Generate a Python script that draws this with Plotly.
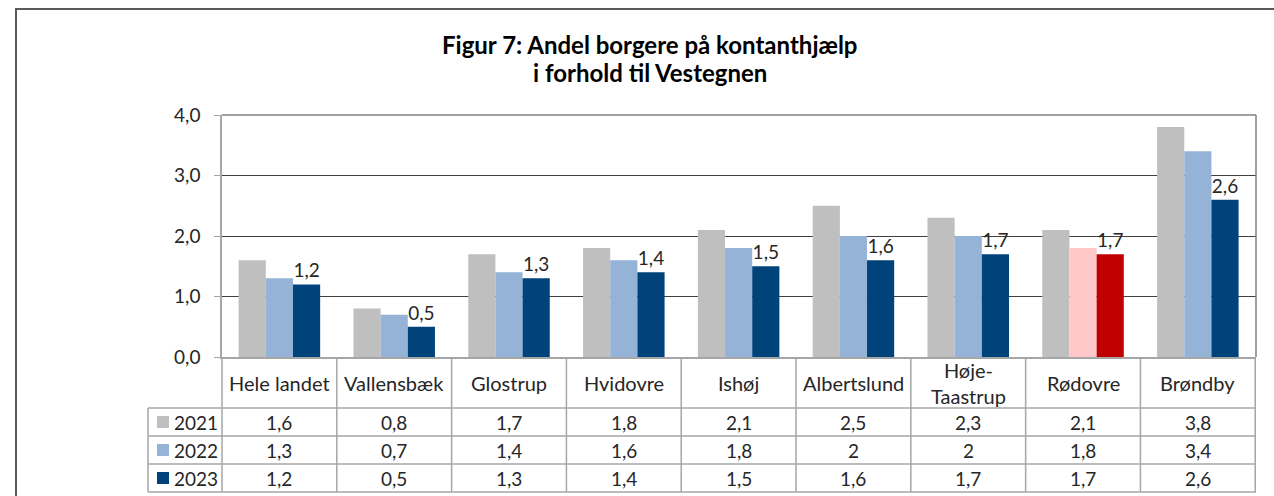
import plotly.graph_objects as go

categories = ["Hele landet", "Vallensbæk", "Glostrup", "Hvidovre", "Ishøj",
              "Albertslund", "Høje-Taastrup", "Rødovre", "Brøndby"]
header_labels = ["Hele landet", "Vallensbæk", "Glostrup", "Hvidovre", "Ishøj",
                 "Albertslund", "Høje-<br>Taastrup", "Rødovre", "Brøndby"]
years = ["2021", "2022", "2023"]
v2021 = [1.6, 0.8, 1.7, 1.8, 2.1, 2.5, 2.3, 2.1, 3.8]
v2022 = [1.3, 0.7, 1.4, 1.6, 1.8, 2.0, 2.0, 1.8, 3.4]
v2023 = [1.2, 0.5, 1.3, 1.4, 1.5, 1.6, 1.7, 1.7, 2.6]
y_ticks = [0, 1, 2, 3, 4]
title_lines = ["Figur 7: Andel borgere på kontanthjælp", "i forhold til Vestegnen"]
highlight = "Rødovre"

C21, C22, C23 = "#BFBFBF", "#95B3D7", "#00427A"
H22, H23 = "#FFC7C7", "#C00000"
FONT = "Lato"
TXT = "#262626"
GRIDC = "#A6A6A6"

W, H = 1274, 496
L, R, T, B = 222, 1256, 115, 357


def px(xp):
    return (xp - L) / (R - L)


def py(yp):
    return (B - yp) / (B - T)


def fmt(v):
    return f"{v:g}".replace(".", ",")


series = [v2021, v2022, v2023]
colors = [
    [C21] * len(categories),
    [H22 if c == highlight else C22 for c in categories],
    [H23 if c == highlight else C23 for c in categories],
]

fig = go.Figure()
for i, (yr, vals) in enumerate(zip(years, series)):
    fig.add_bar(
        x=categories, y=vals, name=yr,
        marker=dict(color=colors[i], line=dict(width=0)),
        text=[fmt(v) for v in vals] if i == 2 else None,
        textposition="outside" if i == 2 else "none",
        textfont=dict(family=FONT, size=19, color=TXT),
        cliponaxis=False,
    )

shapes = []
annotations = []

# outer border
shapes.append(dict(type="rect", xref="paper", yref="paper",
                   x0=px(16), x1=px(1290), y0=py(9), y1=py(520),
                   line=dict(color="#595959", width=2), layer="below"))
# plot frame (top and right)
shapes.append(dict(type="line", xref="paper", yref="paper",
                   x0=0, x1=1, y0=1, y1=1,
                   line=dict(color="#808080", width=1.5)))
shapes.append(dict(type="line", xref="paper", yref="paper",
                   x0=1, x1=1, y0=0, y1=1,
                   line=dict(color="#808080", width=1.5)))

# table rows
row_edges = [357, 408, 436, 464, 492]
for ye in row_edges[1:]:
    shapes.append(dict(type="line", xref="paper", yref="paper",
                       x0=px(148), x1=1, y0=py(ye), y1=py(ye),
                       line=dict(color=GRIDC, width=1.5)))
shapes.append(dict(type="line", xref="paper", yref="paper",
                   x0=px(148), x1=px(148), y0=py(408), y1=py(492),
                   line=dict(color=GRIDC, width=1.5)))
shapes.append(dict(type="line", xref="paper", yref="paper",
                   x0=0, x1=0, y0=py(357), y1=py(492),
                   line=dict(color=GRIDC, width=1.5)))
for k in range(1, len(categories) + 1):
    shapes.append(dict(type="line", xref="x", yref="paper",
                       x0=k - 0.5, x1=k - 0.5, y0=py(357), y1=py(492),
                       line=dict(color=GRIDC, width=1.5)))

# header labels
for c, lab in zip(categories, header_labels):
    annotations.append(dict(x=c, xref="x", yref="paper", y=py(382.5),
                            text=lab, showarrow=False,
                            xanchor="center", yanchor="middle",
                            font=dict(family=FONT, size=20, color=TXT)))

row_centers = [422, 450, 478]
legend_colors = [C21, C22, C23]
for yr, vals, rc, lc in zip(years, series, row_centers, legend_colors):
    shapes.append(dict(type="rect", xref="paper", yref="paper",
                       x0=px(157), x1=px(169), y0=py(rc - 6), y1=py(rc + 6),
                       fillcolor=lc, line=dict(width=0)))
    annotations.append(dict(x=px(172), xref="paper", yref="paper", y=py(rc),
                            text=yr, showarrow=False,
                            xanchor="left", yanchor="middle",
                            font=dict(family=FONT, size=19, color=TXT)))
    for c, v in zip(categories, vals):
        annotations.append(dict(x=c, xref="x", yref="paper", y=py(rc),
                                text=fmt(v), showarrow=False,
                                xanchor="center", yanchor="middle",
                                font=dict(family=FONT, size=19, color=TXT)))

# title (two lines)
for line, yc in zip(title_lines, [44, 73]):
    annotations.append(dict(x=px(650), xref="paper", yref="paper", y=py(yc),
                            text=f"<b>{line}</b>", showarrow=False,
                            xanchor="center", yanchor="middle",
                            font=dict(family=FONT, size=24, color="#000000")))

fig.update_layout(
    width=W, height=H,
    margin=dict(l=L, r=W - R, t=T, b=H - B, pad=0),
    paper_bgcolor="white", plot_bgcolor="white",
    barmode="group", bargap=0.29, bargroupgap=0,
    showlegend=False,
    separators=",.",
    shapes=shapes, annotations=annotations,
    font=dict(family=FONT, color=TXT),
    xaxis=dict(showticklabels=False, showgrid=False, showline=True,
               linecolor=GRIDC, linewidth=1.5, ticks="", fixedrange=True),
    yaxis=dict(range=[0, 4], tickvals=y_ticks, tickformat=".1f",
               showgrid=True, gridcolor="#404040", gridwidth=1,
               showline=True, linecolor=GRIDC, linewidth=1.5,
               ticks="outside", ticklen=6, tickcolor=GRIDC,
               ticklabelstandoff=10, zeroline=False, fixedrange=True,
               tickfont=dict(family=FONT, size=19, color=TXT)),
)

fig.write_html("out.html", config={"displayModeBar": False},
               post_script="document.body.style.margin='0';document.body.style.padding='0';")
